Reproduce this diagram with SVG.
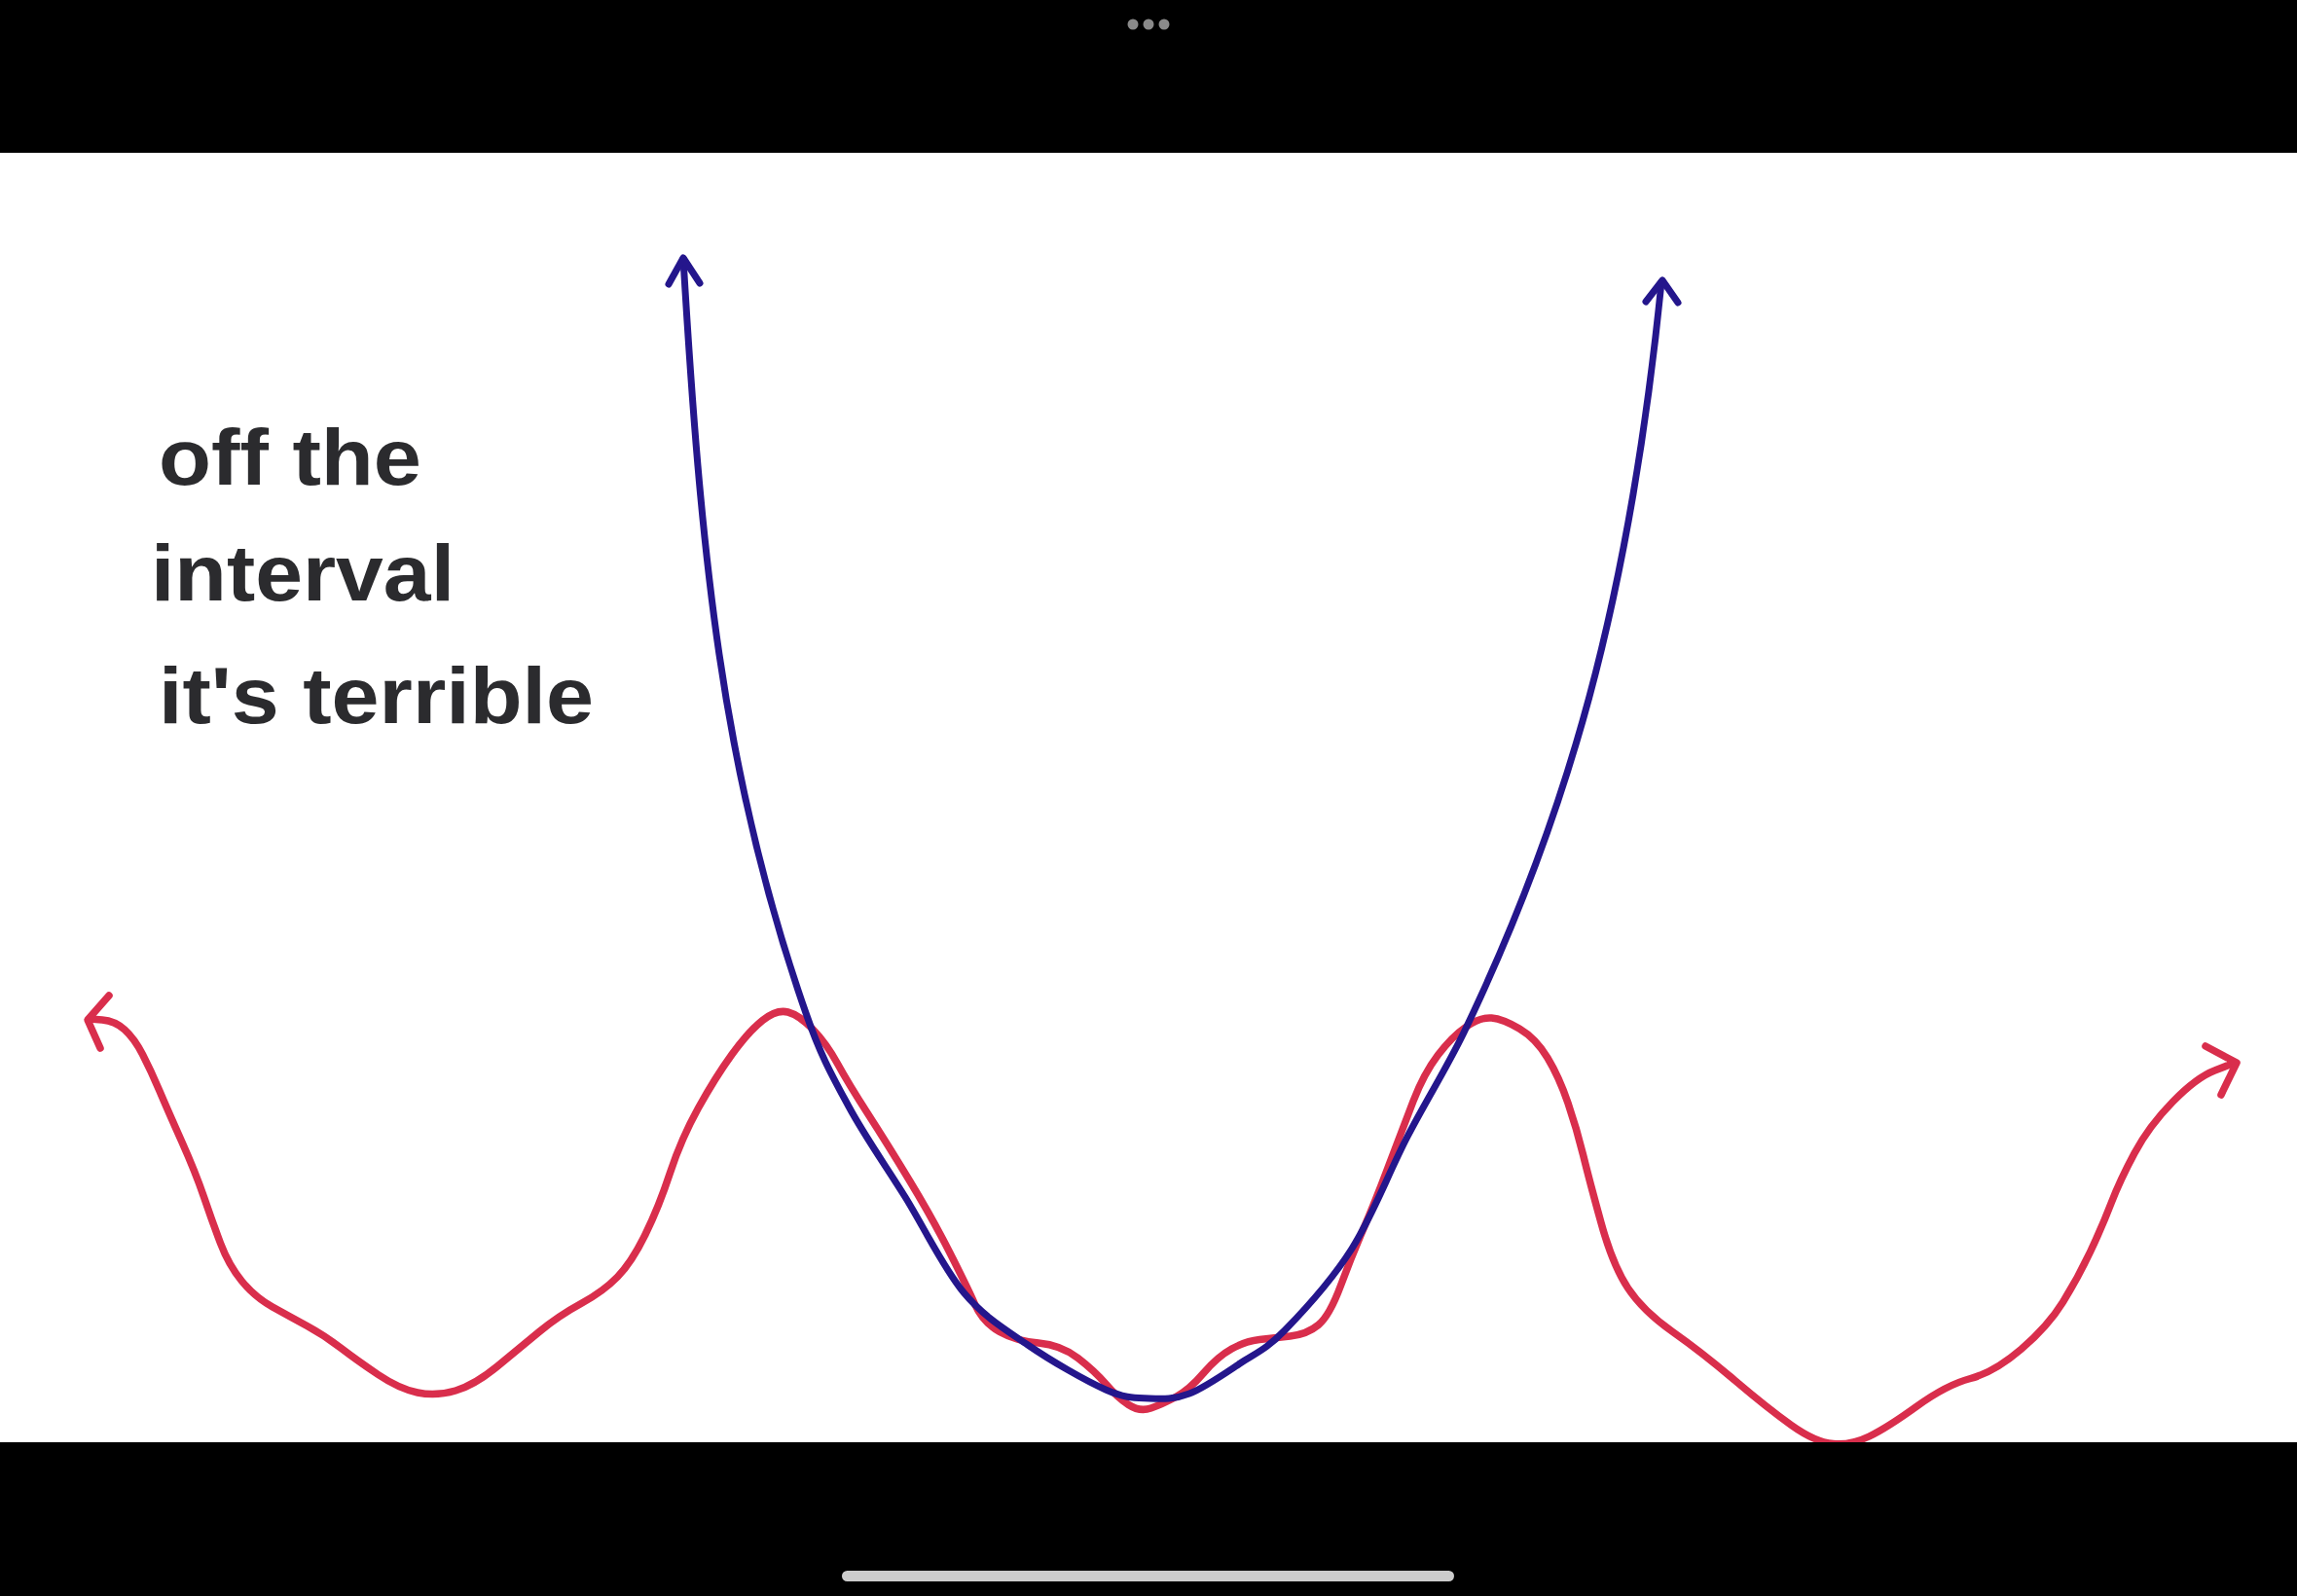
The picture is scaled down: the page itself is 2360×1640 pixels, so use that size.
<svg xmlns="http://www.w3.org/2000/svg" width="2360" height="1640" viewBox="0 0 2360 1640">
<style>
.txt{font-family:"Liberation Sans","DejaVu Sans",sans-serif;font-weight:bold;font-size:82px;fill:#2b2b2e}
.red{fill:none;stroke:#d92e4c;stroke-width:7.5;stroke-linecap:round;stroke-linejoin:round}
.blue{fill:none;stroke:#24168c;stroke-width:7;stroke-linecap:round;stroke-linejoin:round}
</style>
<rect x="0" y="0" width="2360" height="1640" fill="#ffffff"/>
<g id="text">
<text class="txt" x="163" y="498" textLength="270" lengthAdjust="spacingAndGlyphs">off the</text>
<text class="txt" x="155" y="617" textLength="312" lengthAdjust="spacingAndGlyphs">interval</text>
<text class="txt" x="163" y="743" textLength="447" lengthAdjust="spacingAndGlyphs">it's terrible</text>
</g>
<g id="red-curve">
<path class="red" d="M92,1047 L105,1048 Q118,1049 128,1058 Q138,1067 146.5,1083.5 Q155,1100 163.5,1120 Q172,1140 186.5,1172.5 Q201,1205 209.5,1230 Q218,1255 226.5,1277.5 Q235,1300 248.5,1316.5 Q262,1333 280,1343 Q298,1353 315.5,1362.5 Q333,1372 350,1385 Q367,1398 388.5,1412.5 Q410,1427 429,1431 Q448,1435 468,1429 Q488,1423 511,1404 Q534,1385 554,1368.5 Q574,1352 597,1339.5 Q620,1327 634.5,1312 Q649,1297 663,1268.5 Q677,1240 688.5,1205 Q700,1170 717.5,1138.5 Q735,1107 752,1083.5 Q769,1060 783.5,1048.5 Q798,1037 809.5,1040 Q821,1043 835,1057.5 Q849,1072 860.5,1093 Q872,1114 892,1145 Q912,1176 935,1214 Q958,1252 975.5,1286.5 Q993,1321 1001.5,1340 Q1010,1359 1027,1368.5 Q1044,1378 1067,1380 Q1090,1382 1107.5,1395.5 Q1125,1409 1136.5,1422.5 Q1148,1436 1159.5,1443.5 Q1171,1451 1182.5,1447 Q1194,1443 1208,1435.5 Q1222,1428 1236.5,1411 Q1251,1394 1265.5,1386 Q1280,1378 1294,1376.5 Q1308,1375 1325.5,1373 Q1343,1371 1354.5,1361.5 Q1366,1352 1377.5,1321 Q1389,1290 1400.5,1263.5 Q1412,1237 1426.5,1198.5 Q1441,1160 1452,1131.5 Q1463,1103 1477.5,1084 Q1492,1065 1506.5,1055 Q1521,1045 1532.5,1046 Q1544,1047 1561,1057 Q1578,1067 1590,1087 Q1602,1107 1611,1133.5 Q1620,1160 1626.5,1186.5 Q1633,1213 1645,1256.5 Q1657,1300 1672.5,1323.5 Q1688,1347 1718.5,1368.5 Q1749,1390 1782.5,1418.5 Q1816,1447 1840.5,1464.5 Q1865,1482 1883.5,1483.5 Q1902,1485 1920.5,1476 Q1939,1467 1969.5,1445 Q2000,1423 2024.5,1416.5 Q2049,1410 2076.5,1386.5 Q2104,1363 2119.5,1338 Q2135,1313 2147.5,1286.5 Q2160,1260 2169,1236.5 Q2178,1213 2193,1185 Q2208,1157 2232.5,1132 Q2257,1107 2275.5,1100 L2296,1092"/>
<path class="red" d="M112,1023 L90,1048 L103,1077"/>
<path class="red" d="M2266,1075 L2298,1092 L2282,1125"/>
</g>
<g id="blue-curve">
<path class="blue" d="M702,266 C720,566 740.5,791 828,1041 C843.3,1085.2 855,1105.5 872,1137 C889,1168.5 910.3,1198.2 930,1230 C949.7,1261.8 969,1302.7 990,1328 C1011,1353.3 1031.7,1365.3 1056,1382 C1080.3,1398.7 1115.2,1418.8 1136,1428 C1156.8,1437.2 1166.7,1436.3 1181,1437 C1195.3,1437.7 1206.5,1438 1222,1432 C1237.5,1426 1257.7,1411.8 1274,1401 C1290.3,1390.2 1300.8,1386.7 1320,1367 C1339.2,1347.3 1368,1316.2 1389,1283 C1410,1249.8 1426.8,1205 1446,1168 C1465.2,1131 1486.7,1096.8 1504,1061 C1609.6,841 1674,620 1707,290"/>
<path class="blue" d="M687,292 L702,265 L719,291"/>
<path class="blue" d="M1691,310 L1708,288 L1724,311"/>
</g>
<g id="chrome">
<rect x="0" y="0" width="2360" height="157" fill="#000000"/>
<rect x="0" y="1482" width="2360" height="158" fill="#000000"/>
<circle cx="1164" cy="25" r="5.5" fill="#8a8a8a"/>
<circle cx="1180" cy="25" r="5.5" fill="#8a8a8a"/>
<circle cx="1196" cy="25" r="5.5" fill="#8a8a8a"/>
<rect x="865" y="1614" width="629" height="11" rx="5.5" fill="#cccccc"/>
</g>
</svg>
